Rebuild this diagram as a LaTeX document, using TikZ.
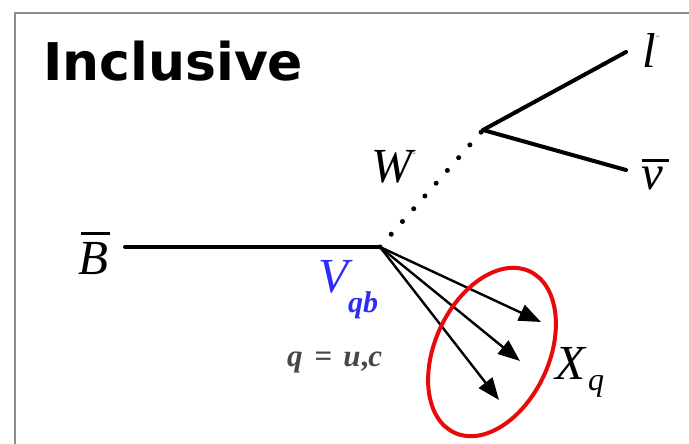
\documentclass[tikz,border=0pt]{standalone}
\usepackage{fontspec}
\setmainfont{Liberation Serif}
\newfontfamily\headfont{DejaVu Sans}
\usetikzlibrary{arrows.meta}
\definecolor{vblue}{RGB}{45,45,245}
\definecolor{ellred}{RGB}{232,10,10}
\definecolor{framegray}{RGB}{140,140,140}
\begin{document}
\begin{tikzpicture}[x=1pt,y=1pt,
  lab/.style={inner sep=0pt, anchor=base west, font=\fontsize{49}{49}\selectfont\itshape},
  fermion/.style={line width=4pt, line cap=round},
  boson/.style={line width=5pt, line cap=round, dash pattern=on 0pt off 17pt},
  quark/.style={line width=2.4pt, -{Triangle[length=22pt,width=17pt]}},
  ring/.style={draw=ellred, line width=4pt},
]
\useasboundingbox (0,0) rectangle (689,444);
% frame
\draw[framegray, line width=2pt] (15,-20) -- (15,431) -- (710,431);
% title
\node[inner sep=0pt, anchor=base west, font=\headfont\bfseries\fontsize{52}{52}\selectfont] (title) at (43,363) {Inclusive};
% coordinates
\coordinate (bstart) at (125,197);
\coordinate (v) at (380,197);
\coordinate (w) at (483,314);
\coordinate (lend) at (626,392);
\coordinate (nuend) at (626,274);
\coordinate (t1) at (541,122);
\coordinate (t2) at (520,83);
\coordinate (t3) at (499,44);
\coordinate (xq) at (492,92);
% labels
\node[lab] (B) at (78,169) {\mbox{\rlap{\hspace{3pt}\rule[40pt]{29pt}{3pt}}B}};
\node[lab] (W) at (371,261) {W\raisebox{26pt}{\fontsize{12}{12}\selectfont\color{gray}-}};
\node[lab] (l) at (642,376) {l\raisebox{28pt}{\fontsize{12}{12}\selectfont\color{gray}-}};
\node[lab] (nu) at (641,254) {\mbox{\rlap{\hspace{1pt}\rule[28pt]{27pt}{3pt}}ν}};
\node[lab, text=vblue] (V) at (318,151) {V\raisebox{-20pt}{\fontsize{30}{30}\selectfont\bfseries\itshape qb}};
\node[inner sep=0pt, anchor=base west, text=black!72, font=\fontsize{31}{31}\selectfont\bfseries] (qeq) at (287,77) {\textit{q}\hspace{12pt}=\hspace{11pt}\textit{u},\textit{c}};
\node[lab] (X) at (555,64) {X\hspace{3pt}\raisebox{-11pt}{\fontsize{32}{32}\selectfont\itshape q}};
% lines
\draw[fermion] (bstart) -- (v);
\draw[boson] (v) -- (w);
\draw[fermion] (w) -- (lend);
\draw[fermion] (w) -- (nuend);
\draw[quark] (v) -- (t1);
\draw[quark] (v) -- (t2);
\draw[quark] (v) -- (t3);
% ellipse
\draw[ring] (xq) ellipse [x radius=57, y radius=89, rotate=-25];
\end{tikzpicture}
\end{document}
